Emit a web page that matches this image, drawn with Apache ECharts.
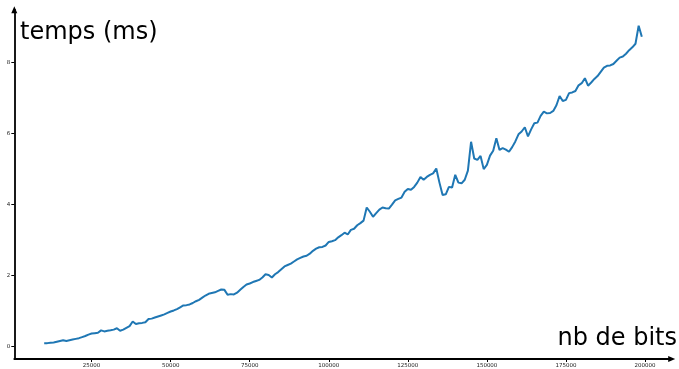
<!DOCTYPE html>
<html>
<head>
<meta charset="utf-8">
<script src="https://cdn.jsdelivr.net/npm/echarts@6/dist/echarts.min.js"></script>
<style>
  html, body { margin: 0; padding: 0; background: #fff; }
  #chart { width: 679px; height: 369px; }
</style>
</head>
<body>
<div id="chart"></div>
<script>
// nb de bits (x)
const nbBits = [
  10000, 11000, 12000, 13000, 14000, 15000, 16000, 17000, 18000, 19000,
  20000, 21000, 22000, 23000, 24000, 25000, 26000, 27000, 28000, 29000,
  30000, 31000, 32000, 33000, 34000, 35000, 36000, 37000, 38000, 39000,
  40000, 41000, 42000, 43000, 44000, 45000, 46000, 47000, 48000, 49000,
  50000, 51000, 52000, 53000, 54000, 55000, 56000, 57000, 58000, 59000,
  60000, 61000, 62000, 63000, 64000, 65000, 66000, 67000, 68000, 69000,
  70000, 71000, 72000, 73000, 74000, 75000, 76000, 77000, 78000, 79000,
  80000, 81000, 82000, 83000, 84000, 85000, 86000, 87000, 88000, 89000,
  90000, 91000, 92000, 93000, 94000, 95000, 96000, 97000, 98000, 99000,
  100000, 101000, 102000, 103000, 104000, 105000, 106000, 107000, 108000, 109000,
  110000, 111000, 112000, 113000, 114000, 115000, 116000, 117000, 118000, 119000,
  120000, 121000, 122000, 123000, 124000, 125000, 126000, 127000, 128000, 129000,
  130000, 131000, 132000, 133000, 134000, 135000, 136000, 137000, 138000, 139000,
  140000, 141000, 142000, 143000, 144000, 145000, 146000, 147000, 148000, 149000,
  150000, 151000, 152000, 153000, 154000, 155000, 156000, 157000, 158000, 159000,
  160000, 161000, 162000, 163000, 164000, 165000, 166000, 167000, 168000, 169000,
  170000, 171000, 172000, 173000, 174000, 175000, 176000, 177000, 178000, 179000,
  180000, 181000, 182000, 183000, 184000, 185000, 186000, 187000, 188000, 189000,
  190000, 191000, 192000, 193000, 194000, 195000, 196000, 197000, 198000, 199000
];

// temps (ms)
const temps = [
  0.10, 0.10, 0.11, 0.12, 0.14, 0.16, 0.18, 0.16, 0.18, 0.20,
  0.22, 0.24, 0.27, 0.30, 0.34, 0.37, 0.38, 0.39, 0.46, 0.43,
  0.45, 0.46, 0.48, 0.52, 0.45, 0.48, 0.53, 0.58, 0.71, 0.64,
  0.66, 0.67, 0.69, 0.78, 0.79, 0.82, 0.85, 0.88, 0.91, 0.95,
  0.99, 1.02, 1.06, 1.11, 1.16, 1.17, 1.19, 1.23, 1.28, 1.32,
  1.38, 1.44, 1.49, 1.51, 1.53, 1.57, 1.61, 1.60, 1.46, 1.48,
  1.47, 1.52, 1.60, 1.68, 1.75, 1.78, 1.82, 1.85, 1.88, 1.95,
  2.04, 2.02, 1.95, 2.04, 2.10, 2.18, 2.26, 2.30, 2.34, 2.40,
  2.46, 2.50, 2.54, 2.56, 2.62, 2.70, 2.76, 2.80, 2.81, 2.85,
  2.95, 2.97, 3.00, 3.08, 3.14, 3.21, 3.16, 3.29, 3.32, 3.42,
  3.48, 3.55, 3.92, 3.80, 3.66, 3.76, 3.86, 3.92, 3.90, 3.89,
  4.00, 4.12, 4.16, 4.20, 4.36, 4.44, 4.42, 4.50, 4.62, 4.78,
  4.70, 4.78, 4.84, 4.88, 5.02, 4.62, 4.27, 4.29, 4.50, 4.48,
  4.84, 4.62, 4.60, 4.70, 4.96, 5.77, 5.30, 5.26, 5.37, 5.00,
  5.12, 5.38, 5.52, 5.87, 5.54, 5.59, 5.55, 5.49, 5.62, 5.78,
  5.98, 6.06, 6.18, 5.92, 6.12, 6.29, 6.31, 6.50, 6.62, 6.57,
  6.58, 6.64, 6.80, 7.06, 6.92, 6.95, 7.14, 7.16, 7.20, 7.36,
  7.42, 7.56, 7.35, 7.44, 7.54, 7.62, 7.74, 7.86, 7.91, 7.92,
  7.96, 8.05, 8.14, 8.17, 8.25, 8.35, 8.43, 8.53, 9.04, 8.73
];

const xTicks = [25000, 50000, 75000, 100000, 125000, 150000, 175000, 200000];
const yTicks = [0, 2, 4, 6, 8];

const points = [];
for (let i = 0; i < nbBits.length; i++) {
  points.push([nbBits[i], temps[i]]);
}

const myChart = echarts.init(document.getElementById('chart'), null, { renderer: 'canvas' });
myChart.setOption({
  animation: false,
  textStyle: { fontFamily: 'DejaVu Sans' },
  grid: { left: 14.3, right: 7.3, top: 9.8, bottom: 10 },
  xAxis: {
    type: 'value',
    min: 550,
    max: 208450,
    splitLine: { show: false },
    axisLine: {
      onZero: false,
      lineStyle: { color: '#000', width: 1.8 },
      symbol: ['none', 'triangle'],
      symbolSize: [6, 7],
      symbolOffset: [0, 0]
    },
    axisTick: { show: true, length: 3, customValues: xTicks, lineStyle: { color: '#000', width: 1 } },
    axisLabel: {
      customValues: xTicks,
      fontSize: 5.5,
      color: '#222',
      margin: 4,
      formatter: (v) => String(v)
    }
  },
  yAxis: {
    type: 'value',
    min: -0.347,
    max: 9.487,
    splitLine: { show: false },
    axisLine: {
      show: true,
      onZero: false,
      lineStyle: { color: '#000', width: 1.8 },
      symbol: ['none', 'triangle'],
      symbolSize: [6, 7],
      symbolOffset: [0, 0]
    },
    axisTick: { show: true, length: 3, customValues: yTicks, lineStyle: { color: '#000', width: 1 } },
    axisLabel: { customValues: yTicks, fontSize: 5.5, color: '#222', margin: 4 }
  },
  graphic: [
    {
      type: 'text',
      left: 20,
      top: 21,
      style: { text: 'temps (ms)', fontSize: 24, fontFamily: 'DejaVu Sans', fill: '#000' }
    },
    {
      type: 'text',
      right: 2,
      top: 327,
      style: { text: 'nb de bits', fontSize: 24, fontFamily: 'DejaVu Sans', fill: '#000' }
    }
  ],
  series: [
    {
      type: 'line',
      data: points,
      showSymbol: false,
      lineStyle: { color: '#1f77b4', width: 2 },
      itemStyle: { color: '#1f77b4' }
    }
  ]
});
window.addEventListener('resize', myChart.resize);
</script>
</body>
</html>
